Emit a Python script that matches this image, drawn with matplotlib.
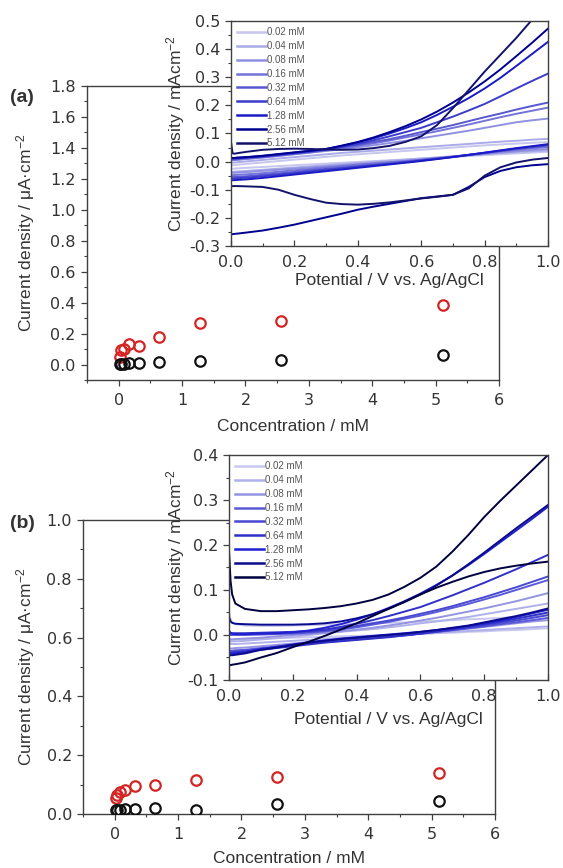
import matplotlib.pyplot as plt
from matplotlib.ticker import MultipleLocator

# tick labels use the wide DejaVu digits, every other text uses an Arial-like face
plt.rcParams["font.family"] = ["DejaVu Sans"]
plt.rcParams["mathtext.default"] = "regular"
plt.rcParams["axes.unicode_minus"] = False
LABEL_FONT = "Liberation Sans"

conc = [0.02, 0.04, 0.08, 0.16, 0.32, 0.64, 1.28, 2.56, 5.12]
conc_labels = ["0.02 mM", "0.04 mM", "0.08 mM", "0.16 mM", "0.32 mM",
               "0.64 mM", "1.28 mM", "2.56 mM", "5.12 mM"]

# current density vs concentration (uA cm-2)
a_red = [0.05, 0.095, 0.1, 0.13, 0.12, 0.18, 0.27, 0.283, 0.383]
a_black = [0.003, 0.004, 0.006, 0.01, 0.013, 0.015, 0.022, 0.032, 0.06]
b_red = [0.053, 0.065, 0.075, 0.08, 0.095, 0.1, 0.115, 0.127, 0.138]
b_black = [0.012, 0.013, 0.014, 0.016, 0.016, 0.019, 0.014, 0.034, 0.043]

# potential grid (V vs. Ag/AgCl) shared by all voltammograms
potential = [0.0, 0.005, 0.01, 0.02, 0.05, 0.1, 0.15, 0.2, 0.25, 0.3, 0.35, 0.4,
             0.45, 0.5, 0.55, 0.6, 0.65, 0.7, 0.75, 0.8, 0.85, 0.9, 0.95, 1.0]

# panel (a) voltammograms, forward (anodic) and reverse sweeps, mA cm-2
a_fwd_002 = [-0.013, -0.013, -0.012, -0.011, -0.008, -0.003, 0.002, 0.007, 0.012, 0.017, 0.022, 0.026,
             0.03, 0.034, 0.038, 0.042, 0.046, 0.05, 0.054, 0.058, 0.061, 0.064, 0.067, 0.069]
a_rev_002 = [-0.025, -0.025, -0.025, -0.024, -0.022, -0.019, -0.016, -0.013, -0.01, -0.007, -0.004, -0.001,
             0.002, 0.005, 0.008, 0.011, 0.014, 0.017, 0.02, 0.023, 0.026, 0.029, 0.032, 0.035]
a_fwd_004 = [-0.004, -0.004, -0.003, -0.002, 0.001, 0.006, 0.011, 0.016, 0.021, 0.026, 0.031, 0.035,
             0.039, 0.043, 0.047, 0.051, 0.055, 0.059, 0.063, 0.067, 0.071, 0.074, 0.078, 0.081]
a_rev_004 = [-0.036, -0.036, -0.036, -0.035, -0.033, -0.029, -0.025, -0.021, -0.017, -0.013, -0.009, -0.005,
             -0.001, 0.003, 0.007, 0.011, 0.015, 0.019, 0.023, 0.027, 0.031, 0.034, 0.037, 0.04]
a_fwd_008 = [0.005, 0.005, 0.006, 0.007, 0.01, 0.015, 0.02, 0.026, 0.032, 0.038, 0.044, 0.051,
             0.058, 0.066, 0.074, 0.083, 0.092, 0.101, 0.11, 0.12, 0.13, 0.14, 0.147, 0.153]
a_rev_008 = [-0.04, -0.04, -0.04, -0.039, -0.037, -0.033, -0.029, -0.025, -0.021, -0.017, -0.013, -0.009,
             -0.005, -0.001, 0.003, 0.007, 0.012, 0.017, 0.022, 0.027, 0.032, 0.037, 0.041, 0.045]
a_fwd_016 = [0.005, 0.005, 0.006, 0.007, 0.01, 0.015, 0.021, 0.027, 0.033, 0.04, 0.048, 0.056,
             0.065, 0.075, 0.086, 0.097, 0.108, 0.12, 0.132, 0.145, 0.158, 0.17, 0.181, 0.192]
a_rev_016 = [-0.048, -0.048, -0.048, -0.047, -0.045, -0.041, -0.036, -0.031, -0.026, -0.021, -0.016, -0.011,
             -0.007, -0.003, 0.002, 0.007, 0.012, 0.018, 0.024, 0.03, 0.036, 0.042, 0.047, 0.052]
a_fwd_032 = [0.01, 0.01, 0.01, 0.011, 0.014, 0.018, 0.023, 0.029, 0.035, 0.042, 0.051, 0.06,
             0.07, 0.08, 0.092, 0.105, 0.117, 0.13, 0.144, 0.158, 0.171, 0.185, 0.198, 0.21]
a_rev_032 = [-0.055, -0.055, -0.055, -0.054, -0.052, -0.047, -0.042, -0.037, -0.031, -0.026, -0.021, -0.016,
             -0.011, -0.006, -0.001, 0.005, 0.011, 0.017, 0.024, 0.031, 0.038, 0.045, 0.051, 0.057]
a_fwd_064 = [0.01, 0.01, 0.01, 0.011, 0.014, 0.018, 0.024, 0.03, 0.036, 0.043, 0.053, 0.063,
             0.076, 0.09, 0.105, 0.12, 0.14, 0.16, 0.182, 0.205, 0.232, 0.26, 0.287, 0.313]
a_rev_064 = [-0.06, -0.06, -0.06, -0.059, -0.057, -0.052, -0.047, -0.041, -0.035, -0.029, -0.024, -0.018,
             -0.013, -0.008, -0.002, 0.004, 0.01, 0.017, 0.024, 0.031, 0.039, 0.046, 0.053, 0.06]
a_fwd_128 = [0.013, 0.013, 0.013, 0.014, 0.016, 0.02, 0.026, 0.032, 0.038, 0.045, 0.056, 0.068,
             0.083, 0.1, 0.119, 0.14, 0.166, 0.195, 0.226, 0.26, 0.298, 0.34, 0.383, 0.426]
a_rev_128 = [-0.066, -0.066, -0.066, -0.065, -0.063, -0.058, -0.052, -0.046, -0.04, -0.034, -0.028, -0.022,
             -0.016, -0.01, -0.004, 0.002, 0.009, 0.016, 0.024, 0.032, 0.04, 0.048, 0.055, 0.062]
a_fwd_256 = [0.013, 0.013, 0.013, 0.014, 0.016, 0.021, 0.027, 0.033, 0.039, 0.045, 0.057, 0.07,
             0.086, 0.105, 0.126, 0.15, 0.178, 0.21, 0.246, 0.285, 0.328, 0.375, 0.423, 0.473]
a_rev_256 = [-0.258, -0.258, -0.257, -0.256, -0.252, -0.245, -0.235, -0.224, -0.211, -0.198, -0.185, -0.171,
             -0.16, -0.15, -0.14, -0.13, -0.124, -0.118, -0.09, -0.055, -0.033, -0.02, -0.013, -0.009]
a_fwd_512 = [0.07, 0.03, 0.028, 0.03, 0.035, 0.042, 0.045, 0.046, 0.045, 0.043, 0.042, 0.043,
             0.048, 0.056, 0.07, 0.09, 0.13, 0.19, 0.255, 0.32, 0.38, 0.44, 0.505, 0.57]
a_rev_512 = [-0.087, -0.087, -0.087, -0.087, -0.088, -0.09, -0.1, -0.118, -0.133, -0.146, -0.151, -0.153,
             -0.15, -0.145, -0.138, -0.131, -0.125, -0.118, -0.095, -0.05, -0.02, -0.003, 0.007, 0.013]

# panel (b) voltammograms
b_fwd_002 = [0.05, 0.035, 0.028, 0.024, 0.021, 0.02, 0.02, 0.021, 0.022, 0.023, 0.024, 0.025,
             0.026, 0.027, 0.028, 0.03, 0.031, 0.033, 0.035, 0.036, 0.038, 0.04, 0.042, 0.045]
b_rev_002 = [-0.01, -0.01, -0.01, -0.01, -0.009, -0.008, -0.007, -0.006, -0.005, -0.004, -0.003, -0.002,
             -0.001, 0.0, 0.001, 0.002, 0.004, 0.005, 0.007, 0.008, 0.01, 0.011, 0.013, 0.015]
b_fwd_004 = [-0.015, -0.015, -0.014, -0.014, -0.013, -0.01, -0.007, -0.004, 0.0, 0.004, 0.007, 0.01,
             0.013, 0.017, 0.021, 0.026, 0.03, 0.035, 0.04, 0.046, 0.052, 0.058, 0.064, 0.07]
b_rev_004 = [-0.02, -0.02, -0.02, -0.02, -0.019, -0.017, -0.015, -0.013, -0.011, -0.009, -0.007, -0.005,
             -0.003, -0.001, 0.001, 0.003, 0.005, 0.007, 0.009, 0.011, 0.013, 0.015, 0.017, 0.019]
b_fwd_008 = [-0.01, -0.01, -0.01, -0.009, -0.008, -0.006, -0.003, 0.0, 0.002, 0.005, 0.008, 0.012,
             0.016, 0.021, 0.026, 0.032, 0.038, 0.045, 0.052, 0.059, 0.067, 0.075, 0.084, 0.093]
b_rev_008 = [-0.03, -0.03, -0.03, -0.029, -0.028, -0.025, -0.022, -0.019, -0.016, -0.013, -0.01, -0.007,
             -0.005, -0.003, 0.0, 0.003, 0.006, 0.01, 0.014, 0.018, 0.022, 0.026, 0.03, 0.033]
b_fwd_016 = [0.0, 0.0, 0.0, 0.0, 0.0, 0.001, 0.002, 0.003, 0.005, 0.008, 0.012, 0.017,
             0.023, 0.029, 0.036, 0.043, 0.051, 0.06, 0.069, 0.079, 0.089, 0.1, 0.111, 0.122]
b_rev_016 = [-0.035, -0.035, -0.035, -0.034, -0.033, -0.029, -0.026, -0.022, -0.018, -0.015, -0.012, -0.009,
             -0.006, -0.003, 0.0, 0.003, 0.007, 0.011, 0.015, 0.019, 0.024, 0.028, 0.033, 0.038]
b_fwd_032 = [0.002, 0.002, 0.002, 0.002, 0.002, 0.003, 0.004, 0.005, 0.007, 0.01, 0.015, 0.02,
             0.026, 0.032, 0.039, 0.047, 0.055, 0.064, 0.074, 0.084, 0.095, 0.106, 0.118, 0.13]
b_rev_032 = [-0.037, -0.037, -0.037, -0.036, -0.035, -0.031, -0.027, -0.023, -0.019, -0.016, -0.013, -0.01,
             -0.007, -0.004, -0.001, 0.003, 0.007, 0.011, 0.016, 0.021, 0.027, 0.032, 0.038, 0.044]
b_fwd_064 = [0.005, 0.004, 0.004, 0.004, 0.004, 0.005, 0.006, 0.007, 0.009, 0.012, 0.018, 0.025,
             0.033, 0.042, 0.052, 0.062, 0.075, 0.088, 0.102, 0.116, 0.131, 0.146, 0.162, 0.178]
b_rev_064 = [-0.04, -0.04, -0.04, -0.039, -0.037, -0.033, -0.029, -0.025, -0.021, -0.017, -0.014, -0.011,
             -0.008, -0.005, -0.001, 0.003, 0.008, 0.013, 0.018, 0.024, 0.03, 0.036, 0.043, 0.05]
b_fwd_128 = [0.01, 0.005, 0.003, 0.002, 0.002, 0.003, 0.004, 0.006, 0.01, 0.016, 0.024, 0.034,
             0.046, 0.06, 0.075, 0.092, 0.111, 0.132, 0.155, 0.18, 0.206, 0.232, 0.258, 0.285]
b_rev_128 = [-0.042, -0.042, -0.042, -0.041, -0.038, -0.031, -0.026, -0.021, -0.016, -0.012, -0.008, -0.005,
             -0.002, 0.001, 0.004, 0.007, 0.011, 0.015, 0.02, 0.026, 0.032, 0.04, 0.048, 0.056]
b_fwd_256 = [0.04, 0.03, 0.027, 0.025, 0.024, 0.023, 0.023, 0.023, 0.024, 0.026, 0.03, 0.037,
             0.046, 0.058, 0.073, 0.09, 0.11, 0.132, 0.157, 0.183, 0.21, 0.237, 0.263, 0.289]
b_rev_256 = [-0.045, -0.045, -0.045, -0.044, -0.041, -0.033, -0.028, -0.022, -0.017, -0.013, -0.009, -0.006,
             -0.003, 0.0, 0.003, 0.007, 0.011, 0.016, 0.021, 0.028, 0.035, 0.042, 0.05, 0.059]
b_fwd_512 = [0.19, 0.12, 0.09, 0.07, 0.058, 0.053, 0.053, 0.055, 0.057, 0.06, 0.064, 0.07,
             0.078, 0.09, 0.107, 0.127, 0.152, 0.185, 0.222, 0.262, 0.298, 0.332, 0.366, 0.40]
b_rev_512 = [-0.067, -0.067, -0.066, -0.065, -0.061, -0.05, -0.04, -0.027, -0.015, -0.002, 0.012, 0.026,
             0.042, 0.058, 0.074, 0.09, 0.105, 0.118, 0.13, 0.14, 0.148, 0.154, 0.159, 0.163]

a_fwd = [a_fwd_002, a_fwd_004, a_fwd_008, a_fwd_016, a_fwd_032, a_fwd_064, a_fwd_128, a_fwd_256, a_fwd_512]
a_rev = [a_rev_002, a_rev_004, a_rev_008, a_rev_016, a_rev_032, a_rev_064, a_rev_128, a_rev_256, a_rev_512]
b_fwd = [b_fwd_002, b_fwd_004, b_fwd_008, b_fwd_016, b_fwd_032, b_fwd_064, b_fwd_128, b_fwd_256, b_fwd_512]
b_rev = [b_rev_002, b_rev_004, b_rev_008, b_rev_016, b_rev_032, b_rev_064, b_rev_128, b_rev_256, b_rev_512]

a_colors = ["#c6c6ef", "#ababe8", "#9090e2", "#7373da", "#5858d2", "#3c3ccc", "#1a1ac6", "#000090", "#12126a"]
b_colors = ["#c8c8f0", "#b0b0ea", "#9494e2", "#5a5ad8", "#4848d2", "#3030c8", "#2020d0", "#0a0a8c", "#000040"]

SPINE = "#404040"
TEXT = "#333333"


def style_axes(ax, x_in=False):
    for side in ["top", "right", "bottom", "left"]:
        ax.spines[side].set_color(SPINE)
        ax.spines[side].set_linewidth(1.0)
    ax.tick_params(which="both", top=False, right=False, colors=SPINE,
                   labelcolor=TEXT, labelsize=11.5)
    ax.tick_params(which="major", length=4, width=0.9)
    ax.tick_params(which="minor", length=2.5, width=0.8)
    ax.tick_params(axis="x", pad=5)
    ax.tick_params(axis="y", pad=4)
    if x_in:
        ax.tick_params(axis="x", which="both", direction="in", pad=6.5)
        ax.tick_params(axis="y", pad=3.5)


def draw_panel(fig, main_rect, inset_rect, red, black, fwd, rev, colors,
               main_ylim, inset_ylim, tag, tag_y, label_x, inset_label_x, xlabel_y, inset_xlabel_y):
    ax = fig.add_axes(main_rect)
    ax.plot(conc, red, "o", mfc="none", mec="#d42424", ms=7.5, mew=1.6, zorder=3)
    ax.plot(conc, black, "o", mfc="none", mec="#111111", ms=7.5, mew=1.6, zorder=3)
    ax.set_xlim(-0.5, 6)
    ax.set_ylim(*main_ylim)
    ax.xaxis.set_major_locator(MultipleLocator(1))
    ax.xaxis.set_minor_locator(MultipleLocator(0.5))
    ax.yaxis.set_major_locator(MultipleLocator(0.2))
    ax.yaxis.set_minor_locator(MultipleLocator(0.1))
    ax.yaxis.set_major_formatter("{x:.1f}")
    style_axes(ax)
    ax.set_xlabel("Concentration / mM", fontsize=12.5, color=TEXT, family=LABEL_FONT)
    ax.set_ylabel("Current density / μA·cm$^{-2}$", fontsize=12.5, color=TEXT, family=LABEL_FONT)
    ax.xaxis.set_label_coords(0.5, xlabel_y)
    ax.yaxis.set_label_coords(label_x, 0.5)

    ins = fig.add_axes(inset_rect)
    ins.set_facecolor("white")
    for f, r, c, lab in zip(fwd, rev, colors, conc_labels):
        ins.plot(potential, f, color=c, lw=1.4, label=lab)
        ins.plot(potential, r, color=c, lw=1.4)
    ins.set_xlim(0, 1.0)
    ins.set_ylim(*inset_ylim)
    ins.xaxis.set_major_locator(MultipleLocator(0.2))
    ins.xaxis.set_minor_locator(MultipleLocator(0.1))
    ins.yaxis.set_major_locator(MultipleLocator(0.1))
    ins.yaxis.set_minor_locator(MultipleLocator(0.05))
    ins.xaxis.set_major_formatter("{x:.1f}")
    ins.yaxis.set_major_formatter("{x:.1f}")
    style_axes(ins, x_in=True)
    ins.set_xlabel("Potential / V vs. Ag/AgCl", fontsize=12.5, color=TEXT, family=LABEL_FONT)
    ins.set_ylabel("Current density / mAcm$^{-2}$", fontsize=12.5, color=TEXT, family=LABEL_FONT)
    ins.xaxis.set_label_coords(0.5, inset_xlabel_y)
    ins.yaxis.set_label_coords(inset_label_x, 0.5)
    leg = ins.legend(loc="upper left", frameon=False, prop={"family": LABEL_FONT, "size": 7},
                     handlelength=3.0, handletextpad=0.1, labelspacing=0.4, borderaxespad=0.25)
    for t in leg.get_texts():
        t.set_color("#555555")
    for line in leg.get_lines():
        line.set_linewidth(1.8)

    fig.text(0.018, tag_y, tag, fontsize=14, fontweight="bold", color=TEXT,
             va="center", family=LABEL_FONT)


fig = plt.figure(figsize=(5.63, 8.68), dpi=100)

draw_panel(fig, [0.1545, 0.5622, 0.7318, 0.3387], [0.4103, 0.7166, 0.5631, 0.2592],
           a_red, a_black, a_fwd, a_rev, a_colors, (-0.1, 1.8), (-0.3, 0.5), "(a)", 0.888,
           -0.121, -0.139, -0.134, -0.122)
draw_panel(fig, [0.1474, 0.0622, 0.7318, 0.3387], [0.4067, 0.2166, 0.5666, 0.2592],
           b_red, b_black, b_fwd, b_rev, b_colors, (0.0, 1.0), (-0.1, 0.4), "(b)", 0.397,
           -0.111, -0.132, -0.125, -0.142)

fig.savefig("out.png", dpi=100)
plt.close(fig)
